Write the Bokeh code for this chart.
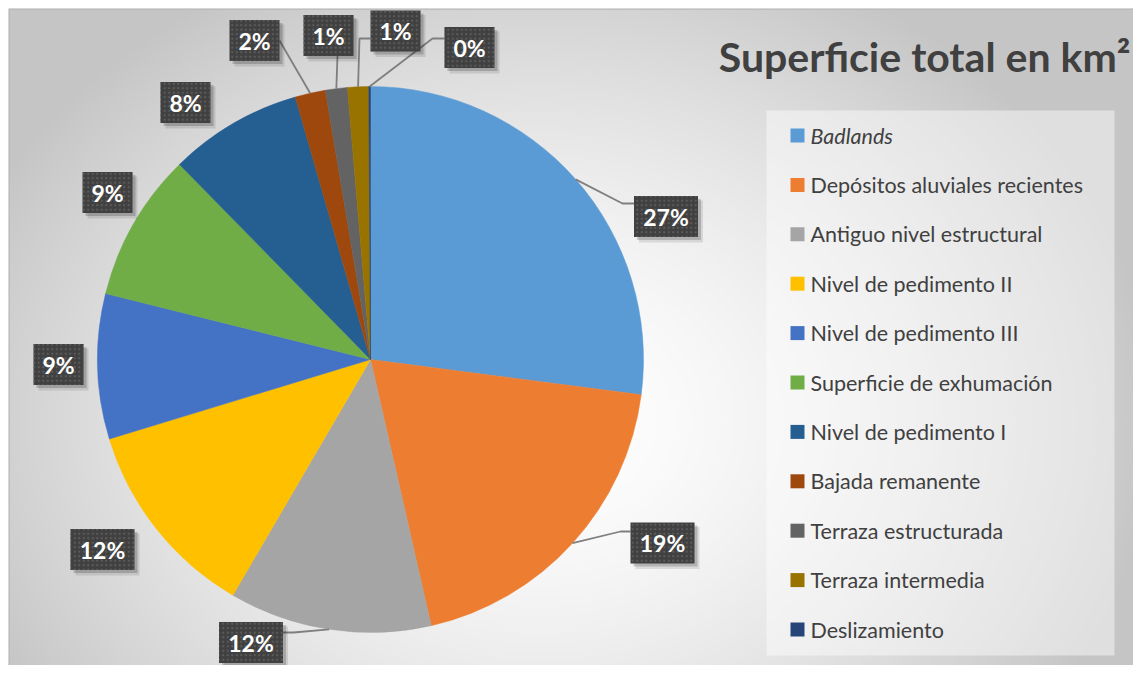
import numpy as np
from bokeh.plotting import figure
from bokeh.models import Range1d, ColumnDataSource
from bokeh.core.properties import value
from bokeh.embed import file_html
from bokeh.resources import INLINE

# ---------------- data ----------------
categories = ["Badlands", "Depósitos aluviales recientes", "Antiguo nivel estructural",
              "Nivel de pedimento II", "Nivel de pedimento III", "Superficie de exhumación",
              "Nivel de pedimento I", "Bajada remanente", "Terraza estructurada",
              "Terraza intermedia", "Deslizamiento"]
shares = [27.1, 19.4, 12.0, 11.9, 8.6, 8.8, 7.9, 1.8, 1.3, 1.25, 0.1]
colors = ["#5B9BD5", "#ED7D31", "#A5A5A5", "#FFC000", "#4472C4", "#70AD47",
          "#255E91", "#9E480E", "#636363", "#997300", "#264478"]
title_text = "Superficie total en km²"

# ---------------- layout (pixels of the reference picture) ----------------
W, H = 1133, 665
MB = 8                      # white border left/top
FW, FH = W - MB, H - MB     # frame size
def X(x): return x - MB
def Y(y): return H - y

PIE_CX, PIE_CY, PIE_R = 370, 359, 273
label_centers = [(665.5, 216), (662, 542.5), (250.5, 642), (102, 549), (58, 364),
                 (107, 192), (185, 102), (254, 40), (328, 35), (395, 30.5), (469, 47)]
leader_paths = [[(622, 203), (634, 203)], [(620, 531), (630, 531)], [(293, 632), (282, 632)],
                None, None, None, None, [(279, 40)], [(337, 55)],
                [(359, 38), (370, 38)], [(432, 38), (444, 38)]]
LEG_X_SQ, LEG_X_TXT, LEG_Y0, LEG_STEP = 797, 810, 135, 49.4

TXT = "#404040"
FONT = value("Lato")

p = figure(width=W, height=H, x_range=Range1d(0, FW), y_range=Range1d(0, FH),
           x_axis_type=None, y_axis_type=None, toolbar_location=None,
           output_backend="svg", min_border=0, min_border_left=MB, min_border_top=MB)
p.grid.visible = False
p.outline_line_color = None
p.background_fill_color = "#e6e6e6"
p.border_fill_color = "white"

# background radial gradient
ny, nx = FH // 2, FW // 2
xs = (np.arange(nx) + 0.5) * FW / nx
ys = (np.arange(ny) + 0.5) * FH / ny
gx, gy = np.meshgrid(xs, ys)
d = np.sqrt(((gx - X(540)) / 620.0) ** 2 + ((gy - Y(420)) / 500.0) ** 2)
g = (255 - 58 * np.clip(d, 0, 1.0) ** 1.6).astype(np.uint8)
img = np.empty((ny, nx), dtype=np.uint32)
view = img.view(dtype=np.uint8).reshape((ny, nx, 4))
view[:, :, 0] = g
view[:, :, 1] = g
view[:, :, 2] = g
view[:, :, 3] = 255
p.image_rgba(image=[img], x=0, y=0, dw=FW, dh=FH)

# chart-area border (top and left)
p.line([0.5, 0.5, FW], [0, FH - 0.5, FH - 0.5], line_color="#b9b9b9", line_width=1.5)

# pie
vals = np.array(shares, dtype=float)
frac = vals / vals.sum()
cum = np.concatenate([[0], np.cumsum(frac)])
start = np.pi / 2 - 2 * np.pi * cum[:-1]
end = np.pi / 2 - 2 * np.pi * cum[1:]
pie_src = ColumnDataSource(dict(start=start, end=end, color=colors, cat=categories))
p.wedge(x=X(PIE_CX), y=Y(PIE_CY), radius=PIE_R, start_angle="start", end_angle="end",
        direction="clock", fill_color="color", line_color="color", line_width=0.5,
        source=pie_src)

# leader lines
mid = (start + end) / 2
for i, path in enumerate(leader_paths):
    if path is None:
        continue
    sx = X(PIE_CX) + PIE_R * np.cos(mid[i])
    sy = Y(PIE_CY) + PIE_R * np.sin(mid[i])
    lx = [sx] + [X(a) for a, b in path]
    ly = [sy] + [Y(b) for a, b in path]
    p.line(lx, ly, line_color="#7f7f7f", line_width=1.8)

# data labels
pct = [f"{int(round(f * 100))}%" for f in frac]
bw = [64 if len(t) >= 3 else 50 for t in pct]
lab = ColumnDataSource(dict(x=[X(a) for a, b in label_centers], y=[Y(b) for a, b in label_centers],
                            w=bw, t=pct))
lab_sh1 = ColumnDataSource(dict(x=[X(a) + 3 for a, b in label_centers],
                                y=[Y(b) - 3 for a, b in label_centers], w=bw))
lab_sh2 = ColumnDataSource(dict(x=[X(a) + 5 for a, b in label_centers],
                                y=[Y(b) - 5 for a, b in label_centers], w=bw))
p.rect(x="x", y="y", width="w", height=42, fill_color="black", fill_alpha=0.10,
       line_color=None, source=lab_sh2)
p.rect(x="x", y="y", width="w", height=41, fill_color="black", fill_alpha=0.18,
       line_color=None, source=lab_sh1)
p.rect(x="x", y="y", width="w", height=41, fill_color="#404040", line_color=None,
       hatch_pattern="dot", hatch_color="#5c5c5c", hatch_scale=4.5, hatch_weight=1.2,
       source=lab)
p.text(x="x", y="y", text="t", text_align="center", text_baseline="middle",
       text_color="white", text_font=FONT, text_font_style="bold",
       text_font_size="23px", source=lab)

# title
p.text(x=[X(1130)], y=[Y(56)], text=[title_text], text_align="right", text_baseline="middle",
       text_color=TXT, text_font=FONT, text_font_style="bold", text_font_size="41px")

# legend panel
p.quad(left=X(766), right=X(1114), top=Y(110), bottom=Y(655), fill_color="white",
       fill_alpha=0.45, line_color=None)
leg_y = [Y(LEG_Y0 + i * LEG_STEP) for i in range(len(categories))]
fstyle = ["italic"] + ["normal"] * (len(categories) - 1)
leg = ColumnDataSource(dict(xs=[X(LEG_X_SQ)] * len(categories), xt=[X(LEG_X_TXT)] * len(categories),
                            y=leg_y, color=colors, cat=categories, fs=fstyle))
p.rect(x="xs", y="y", width=14, height=14, fill_color="color", line_color=None, source=leg)
p.text(x="xt", y="y", text="cat", text_baseline="middle", text_align="left",
       text_color=TXT, text_font=FONT, text_font_style="fs", text_font_size="21.5px", source=leg)

open("out.html", "w").write(file_html(p, INLINE))
